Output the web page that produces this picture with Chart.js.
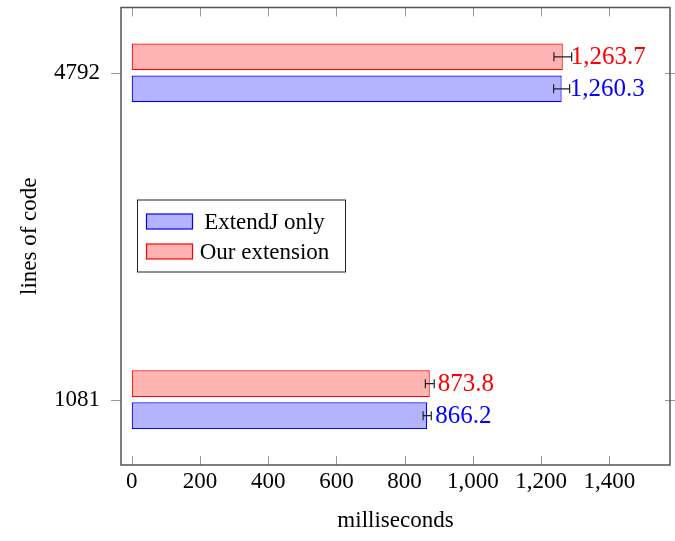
<!DOCTYPE html>
<html>
<head>
<meta charset="utf-8">
<script src="https://cdn.jsdelivr.net/npm/chart.js@4/dist/chart.umd.min.js"></script>
<style>
  body { margin: 0; background: #fff; }
  #wrap { width: 675px; height: 541px; }
</style>
</head>
<body>
<div id="wrap"><canvas id="chart-area" width="675" height="541"></canvas></div>
<script>
// data; index 0 = bottom category
var categories = ['1081', '4792'];
var extendJ = [866.2, 1260.3];
var extendJErr = [12, 23.5];
var ours = [873.8, 1263.7];
var oursErr = [13, 26];
var xTicks = [0, 200, 400, 600, 800, 1000, 1200, 1400];

var serif = '"Liberation Serif", "Times New Roman", serif';
Chart.defaults.color = '#000';
Chart.defaults.font.family = serif;
Chart.defaults.font.size = 23;

var errors = [extendJErr, oursErr];

// error bars + value labels next to each bar
var barExtras = {
  id: 'barExtras',
  afterDatasetsDraw: function(chart) {
    var ctx = chart.ctx, xs = chart.scales.x;
    chart.data.datasets.forEach(function(ds, d) {
      var meta = chart.getDatasetMeta(d);
      meta.data.forEach(function(bar, i) {
        var v = ds.data[i].x, e = errors[d][i];
        var x0 = xs.getPixelForValue(v - e), x1 = xs.getPixelForValue(v + e);
        ctx.save();
        ctx.strokeStyle = '#222';
        ctx.lineWidth = 1.2;
        ctx.beginPath();
        ctx.moveTo(x0, bar.y); ctx.lineTo(x1, bar.y);
        ctx.moveTo(x0, bar.y - 4.5); ctx.lineTo(x0, bar.y + 4.5);
        ctx.moveTo(x1, bar.y - 4.5); ctx.lineTo(x1, bar.y + 4.5);
        ctx.stroke();
        ctx.fillStyle = ds.borderColor;
        ctx.font = '25px ' + serif;
        ctx.textBaseline = 'middle';
        ctx.textAlign = 'left';
        ctx.fillText(v.toLocaleString('en-US', {minimumFractionDigits: 1}), bar.x + 8, bar.y + 1);
        ctx.restore();
      });
    });
  }
};

// frame, inward ticks and the boxed legend
var frame = {
  id: 'frame',
  afterDraw: function(chart) {
    var ctx = chart.ctx, a = chart.chartArea;
    var xs = chart.scales.x, ys = chart.scales.y;
    ctx.save();
    ctx.strokeStyle = '#999';
    ctx.lineWidth = 1;
    ctx.beginPath();
    xTicks.forEach(function(t) {
      var px = Math.round(xs.getPixelForValue(t)) + 0.5;
      ctx.moveTo(px, a.bottom); ctx.lineTo(px, a.bottom - 9);
      ctx.moveTo(px, a.top); ctx.lineTo(px, a.top + 9);
    });
    categories.forEach(function(c, i) {
      var py = Math.round(ys.getPixelForValue(i)) + 0.5;
      ctx.moveTo(a.left - 10, py); ctx.lineTo(a.left, py);
      ctx.moveTo(a.right - 5, py); ctx.lineTo(a.right + 5, py);
    });
    ctx.stroke();
    ctx.strokeStyle = '#555';
    ctx.lineWidth = 1.5;
    ctx.strokeRect(a.left, a.top, a.right - a.left, a.bottom - a.top);

    // legend
    var lx = a.left + 16.5, ly = a.top + 192.5, lw = 208, lh = 72;
    ctx.fillStyle = '#fff';
    ctx.fillRect(lx, ly, lw, lh);
    ctx.strokeStyle = '#222';
    ctx.lineWidth = 1;
    ctx.strokeRect(lx, ly, lw, lh);
    chart.data.datasets.forEach(function(ds, d) {
      var cy = ly + 21.5 + d * 30;
      ctx.fillStyle = ds.backgroundColor;
      ctx.fillRect(lx + 9, cy - 7.5, 46, 15);
      ctx.strokeStyle = ds.borderColor;
      ctx.lineWidth = 1.2;
      ctx.strokeRect(lx + 9, cy - 7.5, 46, 15);
      ctx.fillStyle = '#000';
      ctx.font = '23px ' + serif;
      ctx.textAlign = 'center';
      ctx.textBaseline = 'middle';
      ctx.fillText(ds.label, lx + 127, cy + 1);
    });
    ctx.restore();
  }
};

var config = {
  type: 'bar',
  data: {
    datasets: [{
      label: 'ExtendJ only',
      data: extendJ.map(function(v, i) { return {x: v, y: i}; }),
      backgroundColor: '#b3b3ff',
      borderColor: '#0000ff',
      order: 1
    }, {
      label: 'Our extension',
      data: ours.map(function(v, i) { return {x: v, y: i}; }),
      backgroundColor: '#ffb3b3',
      borderColor: '#ff0000',
      order: 0
    }]
  },
  options: {
    responsive: false,
    animation: false,
    indexAxis: 'y',
    locale: 'en-US',
    layout: { padding: { left: 0, right: 5, top: 7.5, bottom: 0 } },
    datasets: {
      bar: {
        categoryPercentage: 0.196,
        barPercentage: 0.83,
        borderWidth: 1.2,
        borderSkipped: false
      }
    },
    plugins: {
      legend: { display: false },
      tooltip: { enabled: false }
    },
    scales: {
      x: {
        type: 'linear',
        min: -31.4,
        max: 1578,
        grid: { display: false, drawTicks: false },
        border: { display: false },
        afterBuildTicks: function(s) { s.ticks = xTicks.map(function(v) { return {value: v}; }); },
        afterFit: function(s) { s.height = 76; s.paddingLeft = 0; s.paddingRight = 0; },
        ticks: { padding: 3, maxRotation: 0, autoSkip: false },
        title: { display: true, text: 'milliseconds', padding: { top: 0, bottom: 6 } }
      },
      y: {
        type: 'linear',
        min: -0.2,
        max: 1.2,
        offset: false,
        grid: { display: false, drawTicks: false },
        border: { display: false },
        afterBuildTicks: function(s) { s.ticks = categories.map(function(c, i) { return {value: i}; }); },
        afterFit: function(s) { s.width = 121; s.paddingTop = 0; s.paddingBottom = 0; },
        ticks: {
          padding: 21,
          autoSkip: false,
          callback: function(v) { return categories[v]; }
        },
        title: { display: true, text: 'lines of code', padding: { top: 16, bottom: 0 } }
      }
    }
  },
  plugins: [barExtras, frame]
};

window.onload = function() {
  var ctx = document.getElementById('chart-area').getContext('2d');
  window.myBar = new Chart(ctx, config);
};
</script>
</body>
</html>
